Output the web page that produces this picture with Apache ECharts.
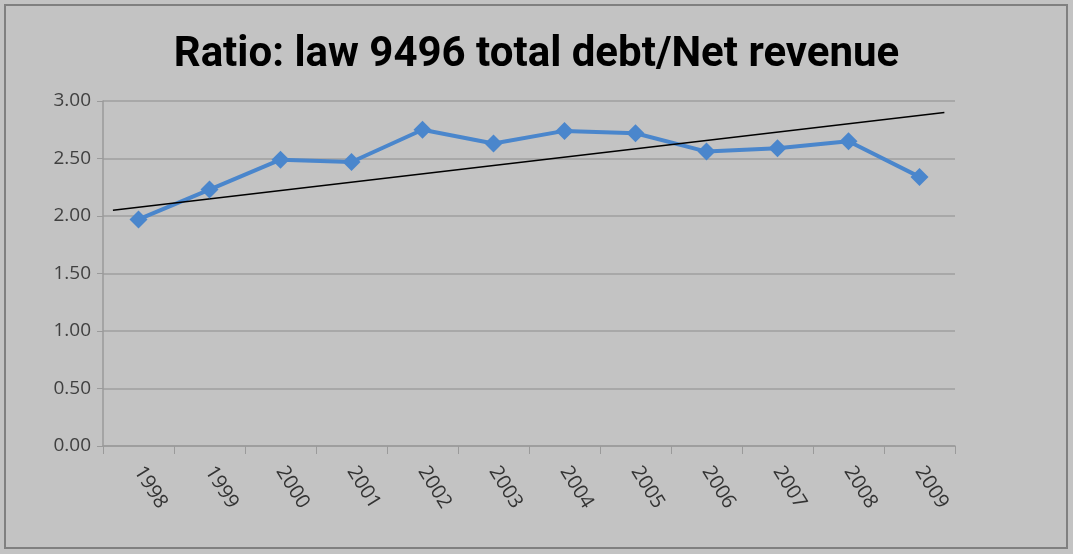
<!DOCTYPE html>
<html>
<head>
<meta charset="utf-8">
<script src="https://cdn.jsdelivr.net/npm/echarts@6/dist/echarts.min.js"></script>
<style>
html,body{margin:0;padding:0;background:#c3c3c3;}
#c{width:1073px;height:554px;}
</style>
</head>
<body>
<div id="c"></div>
<script>
const titleText = "Ratio: law 9496 total debt/Net revenue";
const years = ["1998","1999","2000","2001","2002","2003","2004","2005","2006","2007","2008","2009"];
const ratios = [1.97, 2.23, 2.49, 2.47, 2.75, 2.63, 2.74, 2.72, 2.56, 2.59, 2.65, 2.34];
// hand-drawn trend line endpoints: [category position, value]
const trendX = [-0.36, 11.35];
const trendY = [2.05, 2.90];
const yTicks = [0, 0.5, 1, 1.5, 2, 2.5, 3];

const chart = echarts.init(document.getElementById('c'));
chart.setOption({
  backgroundColor: '#c3c3c3',
  animation: false,
  title: {
    text: titleText,
    left: 'center',
    top: 29,
    textStyle: {fontFamily: 'Roboto, sans-serif', fontWeight: 'bold', fontSize: 42, color: '#000'}
  },
  graphic: [{
    type: 'rect', shape: {x: 5, y: 5, width: 1062, height: 543},
    style: {fill: 'none', stroke: '#808080', lineWidth: 2}, silent: true
  }],
  grid: {left: 103, right: 118, top: 101, bottom: 108, containLabel: false},
  xAxis: [{
    type: 'category', data: years,
    axisLine: {lineStyle: {color: '#9a9a9a', width: 1.5}},
    axisTick: {show: true, length: 8, lineStyle: {color: '#9a9a9a'}},
    axisLabel: {rotate: -58, fontSize: 20, color: '#333', margin: 22, fontFamily: 'Open Sans, sans-serif'}
  }, {
    type: 'value', min: -0.5, max: 11.5, show: false
  }],
  yAxis: {
    type: 'value', min: yTicks[0], max: yTicks[yTicks.length - 1], interval: 0.5,
    axisLine: {show: true, onZero: false, lineStyle: {color: '#9a9a9a', width: 1.5}},
    axisTick: {show: true, length: 6, lineStyle: {color: '#9a9a9a'}},
    axisLabel: {formatter: v => v.toFixed(2), fontSize: 19, color: '#404040', margin: 12, fontFamily: 'Open Sans, sans-serif'},
    splitLine: {lineStyle: {color: '#a8a8a8', width: 2}}
  },
  series: [{
    type: 'line', data: ratios, xAxisIndex: 0,
    symbol: 'diamond', symbolSize: 18,
    lineStyle: {color: '#4a86cc', width: 4},
    itemStyle: {color: '#4a86cc'}
  }, {
    type: 'line', xAxisIndex: 1, symbol: 'none',
    data: trendX.map((x, i) => [x, trendY[i]]),
    lineStyle: {color: '#000', width: 1.6}, z: 3
  }]
});
</script>
</body>
</html>
